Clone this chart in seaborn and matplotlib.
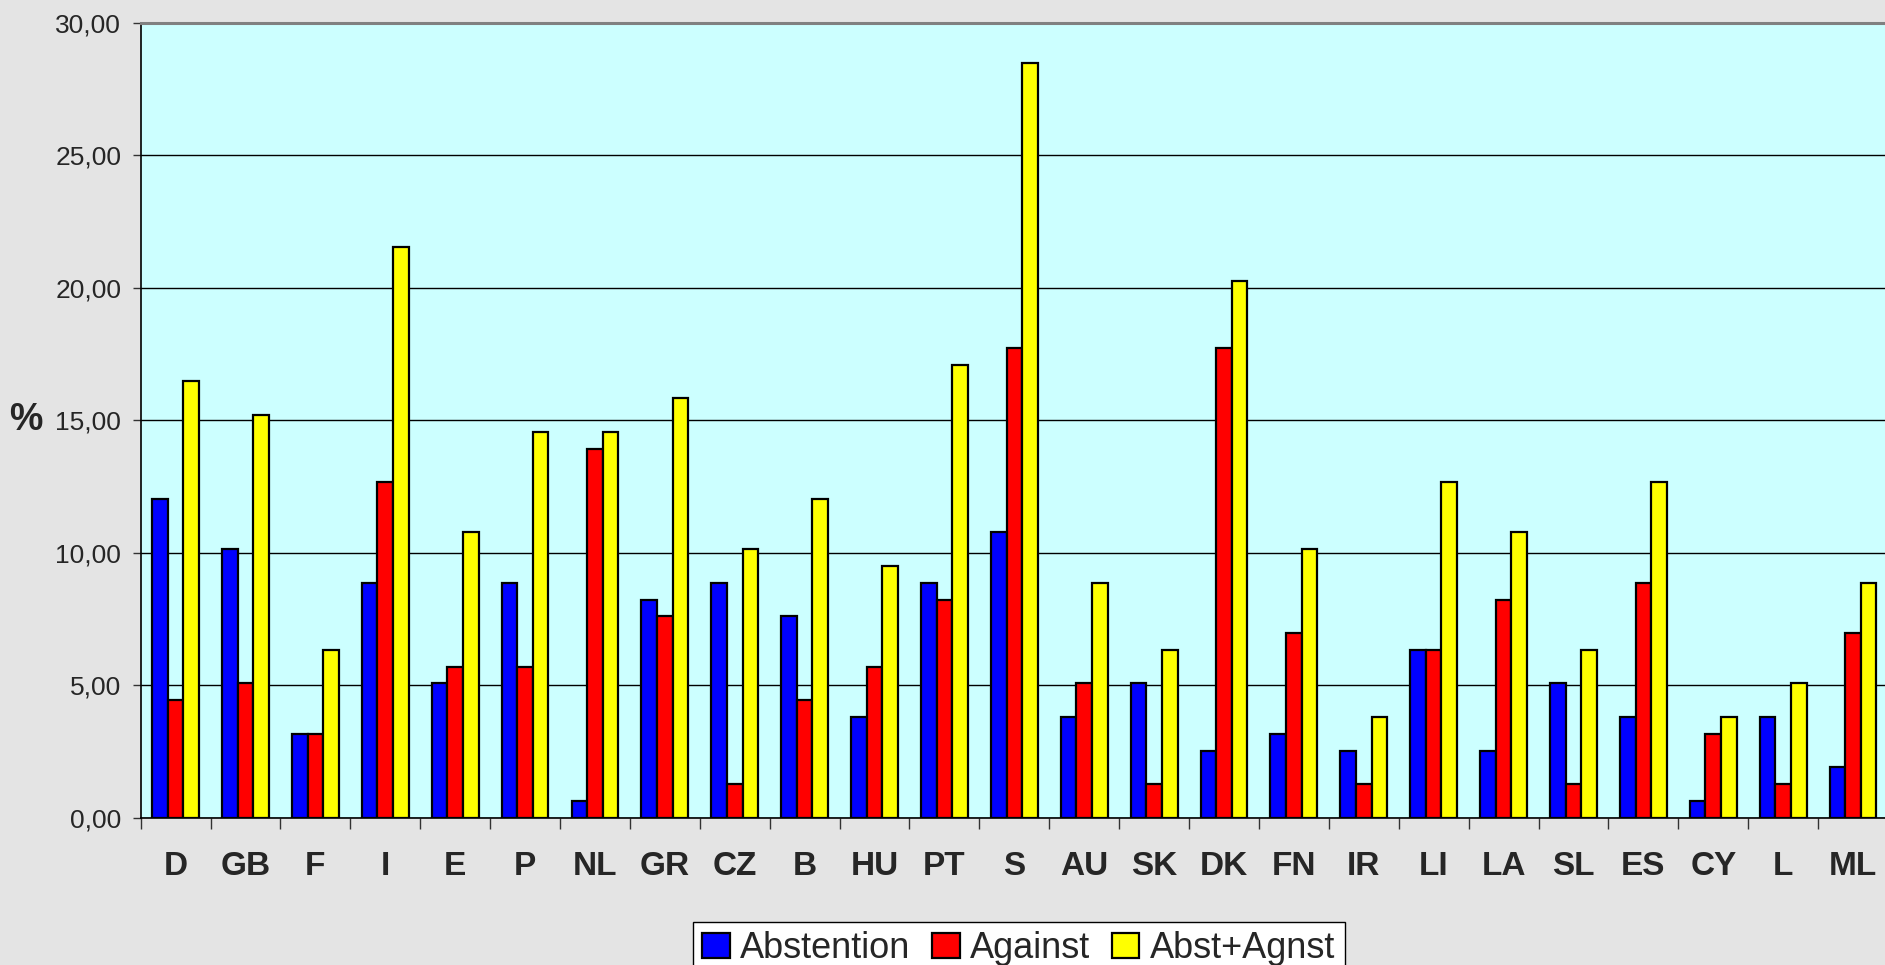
import pandas as pd
import matplotlib
matplotlib.use('Agg')
import matplotlib.pyplot as plt
from matplotlib.patches import Patch
from matplotlib.ticker import FixedLocator, FuncFormatter
import seaborn as sns

# Data (percent)
countries = ['D', 'GB', 'F', 'I', 'E', 'P', 'NL', 'GR', 'CZ', 'B', 'HU', 'PT', 'S',
             'AU', 'SK', 'DK', 'FN', 'IR', 'LI', 'LA', 'SL', 'ES', 'CY', 'L', 'ML']
abstention = [12.03, 10.13, 3.16, 8.86, 5.06, 8.86, 0.63, 8.23, 8.86, 7.59, 3.80, 8.86, 10.76,
              3.80, 5.06, 2.53, 3.16, 2.53, 6.33, 2.53, 5.06, 3.80, 0.63, 3.80, 1.90]
against = [4.43, 5.06, 3.16, 12.66, 5.70, 5.70, 13.92, 7.59, 1.27, 4.43, 5.70, 8.23, 17.72,
           5.06, 1.27, 17.72, 6.96, 1.27, 6.33, 8.23, 1.27, 8.86, 3.16, 1.27, 6.96]
abst_agnst = [16.46, 15.19, 6.33, 21.52, 10.76, 14.56, 14.56, 15.82, 10.13, 12.03, 9.49, 17.09, 28.48,
              8.86, 6.33, 20.25, 10.13, 3.80, 12.66, 10.76, 6.33, 12.66, 3.80, 5.06, 8.86]
series_names = ['Abstention', 'Against', 'Abst+Agnst']
colors = ['#0000FF', '#FF0000', '#FFFF00']

# Long format table for seaborn
df = pd.DataFrame({
    'country': countries * 3,
    'value': abstention + against + abst_agnst,
    'series': [series_names[0]] * len(countries) + [series_names[1]] * len(countries)
              + [series_names[2]] * len(countries),
})

sns.set_style('white')
plt.rcParams['font.family'] = ['Liberation Sans', 'DejaVu Sans']

fig = plt.figure(figsize=(18.85, 9.65), dpi=100)
fig.patch.set_facecolor('#E4E4E4')
ax = fig.add_axes([0.0746, 0.1528, 0.927, 0.8236])
ax.set_facecolor('#CCFFFF')

sns.barplot(data=df, x='country', y='value', hue='series', order=countries,
            hue_order=series_names, palette=colors, width=0.67,
            edgecolor='black', linewidth=1.6, saturation=1, ax=ax, legend=False)

ax.set_ylim(0, 30)
ax.set_xlim(-0.5, len(countries) - 0.5)
ax.set_yticks([0, 5, 10, 15, 20, 25, 30])
ax.yaxis.set_major_formatter(FuncFormatter(lambda v, p: f'{v:.2f}'.replace('.', ',')))
ax.yaxis.grid(True, color='black', linewidth=1.0)
ax.set_axisbelow(True)
ax.set_xlabel('')
ax.set_ylabel('')

# ticks between the categories
ax.xaxis.set_minor_locator(FixedLocator([i - 0.5 for i in range(len(countries) + 1)]))
ax.tick_params(axis='x', which='major', length=0, pad=24, labelsize=24)
ax.tick_params(axis='x', which='minor', length=8, width=1, color='#333333', direction='out', bottom=True)
ax.tick_params(axis='y', length=6, width=1, color='#333333', pad=8, labelsize=19, left=True)
for lbl in ax.get_xticklabels():
    lbl.set_fontweight('bold')

for side in ['left', 'bottom']:
    ax.spines[side].set_color('black')
    ax.spines[side].set_linewidth(1.2)
ax.spines['top'].set_color('#808080')
ax.spines['top'].set_linewidth(2.2)
ax.spines['right'].set_visible(False)

fig.text(26 / 1885, 1 - 420 / 965, '%', fontsize=27, fontweight='bold', ha='center', va='center')

handles = [Patch(facecolor=c, edgecolor='black', linewidth=1.6) for c in colors]
fig.legend(handles, series_names, loc='upper center', bbox_to_anchor=(0.5406, 1 - 922 / 965),
           ncol=3, frameon=True, fancybox=False, edgecolor='black', facecolor='white',
           fontsize=26, handlelength=0.75, handleheight=0.72, handletextpad=0.3,
           columnspacing=0.6, borderpad=0.25, borderaxespad=0, framealpha=1)

fig.savefig('out.png', dpi=100, facecolor=fig.get_facecolor())
